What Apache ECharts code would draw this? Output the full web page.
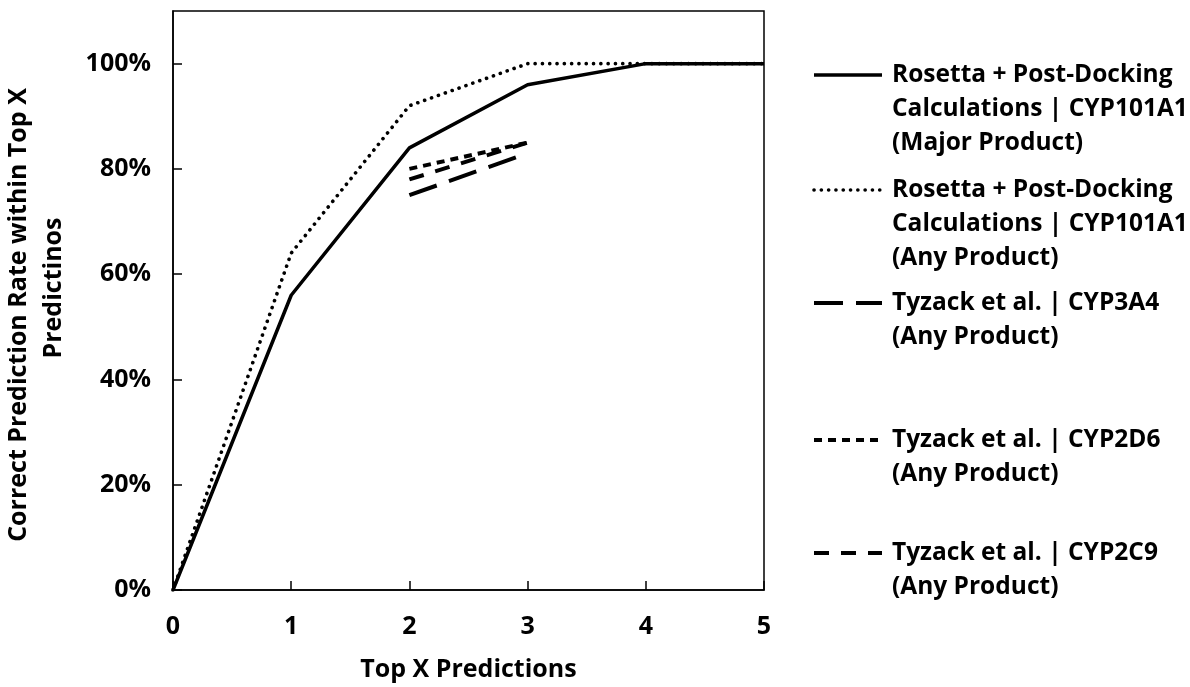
<!DOCTYPE html>
<html>
<head>
<meta charset="utf-8">
<script src="https://cdn.jsdelivr.net/npm/echarts@6/dist/echarts.min.js"></script>
<style>
  html, body { margin: 0; padding: 0; background: #fff; }
  #chart { width: 1190px; height: 687px; }
</style>
</head>
<body>
<div id="chart"></div>
<script>
// Top X predictions (x) and correct prediction rate in percent (y)
const topX = [0, 1, 2, 3, 4, 5];
const rosettaMajor = [0, 56, 84, 96, 100, 100];
const rosettaAny = [0, 64, 92, 100, 100, 100];
const tyzackX = [2, 3];
const tyzack3A4 = [75, 83];
const tyzack2D6 = [80, 85];
const tyzack2C9 = [78, 85];
const yTicks = [0, 20, 40, 60, 80, 100];

const seriesNames = [
  ['Rosetta + Post-Docking', 'Calculations | CYP101A1', '(Major Product)'],
  ['Rosetta + Post-Docking', 'Calculations | CYP101A1', '(Any Product)'],
  ['Tyzack et al. | CYP3A4', '(Any Product)'],
  ['Tyzack et al. | CYP2D6', '(Any Product)'],
  ['Tyzack et al. | CYP2C9', '(Any Product)']
];

const FONT = '"Open Sans"';
const FS = 25;
const LEGEND_FS = 24.5;

const pairs = (xs, ys) => xs.map((x, i) => [x, ys[i]]);

const styles = [
  { type: 'solid', width: 3.5, cap: 'butt' },
  { type: [0.1, 7.2], width: 3.6, cap: 'round' },
  { type: [29, 13], width: 4, cap: 'butt' },
  { type: [8, 6], width: 4, cap: 'butt' },
  { type: [15, 12], width: 4, cap: 'butt' }
];

const data = [
  pairs(topX, rosettaMajor),
  pairs(topX, rosettaAny),
  pairs(tyzackX, tyzack3A4),
  pairs(tyzackX, tyzack2D6),
  pairs(tyzackX, tyzack2C9)
];

const series = data.map((d, i) => ({
  name: seriesNames[i].join(' '),
  type: 'line',
  data: d,
  symbol: 'none',
  silent: true,
  lineStyle: { color: '#000', width: styles[i].width, type: styles[i].type, cap: styles[i].cap }
}));

// Legend: line sample beside a multi-line label, first line aligned with the sample
const legendRows = [75, 190, 303, 440, 553];
const lineGap = 34;
const graphics = [];
seriesNames.forEach((lines, i) => {
  const y = legendRows[i];
  graphics.push({
    type: 'line',
    shape: { x1: 814, y1: y, x2: 882, y2: y },
    style: { stroke: '#000', lineWidth: styles[i].width, lineDash: styles[i].type === 'solid' ? null : styles[i].type, lineCap: styles[i].cap }
  });
  lines.forEach((t, k) => {
    graphics.push({
      type: 'text',
      x: 892, y: y + k * lineGap,
      style: { text: t, font: 'bold ' + LEGEND_FS + 'px ' + FONT, fill: '#000', textAlign: 'left', textVerticalAlign: 'middle' }
    });
  });
});

// Y axis title (two lines, rotated)
graphics.push({
  type: 'text', x: 19, y: 315, rotation: Math.PI / 2,
  style: { text: 'Correct Prediction Rate within Top X', font: 'bold ' + FS + 'px ' + FONT, fill: '#000', textAlign: 'center', textVerticalAlign: 'middle' }
});
graphics.push({
  type: 'text', x: 54, y: 288, rotation: Math.PI / 2,
  style: { text: 'Predictinos', font: 'bold ' + FS + 'px ' + FONT, fill: '#000', textAlign: 'center', textVerticalAlign: 'middle' }
});

const chart = echarts.init(document.getElementById('chart'), null, { renderer: 'canvas' });
chart.setOption({
  animation: false,
  backgroundColor: '#fff',
  grid: { left: 173, right: 426, top: 11, bottom: 94, show: true, borderColor: '#000', borderWidth: 1.5, containLabel: false },
  xAxis: {
    type: 'value', min: 0, max: 5, interval: 1,
    name: 'Top X Predictions', nameLocation: 'middle', nameGap: 67,
    nameTextStyle: { fontFamily: FONT, fontWeight: 'bold', fontSize: FS, color: '#000' },
    axisLine: { show: true, lineStyle: { color: '#000', width: 1.5 } },
    axisTick: { show: true, inside: true, length: 9, lineStyle: { color: '#000', width: 1.5 } },
    axisLabel: { fontFamily: FONT, fontWeight: 'bold', fontSize: FS, color: '#000', margin: 24 },
    splitLine: { show: false }
  },
  yAxis: {
    type: 'value', min: 0, max: 110, interval: 20,
    axisLine: { show: true, lineStyle: { color: '#000', width: 1.5 } },
    axisTick: { show: true, inside: true, length: 9, lineStyle: { color: '#000', width: 1.5 } },
    axisLabel: {
      fontFamily: FONT, fontWeight: 'bold', fontSize: FS, color: '#000', margin: 22,
      showMaxLabel: false,
      formatter: v => (yTicks.indexOf(v) >= 0 ? v + '%' : '')
    },
    splitLine: { show: false }
  },
  series: series,
  graphic: graphics
});
</script>
</body>
</html>
